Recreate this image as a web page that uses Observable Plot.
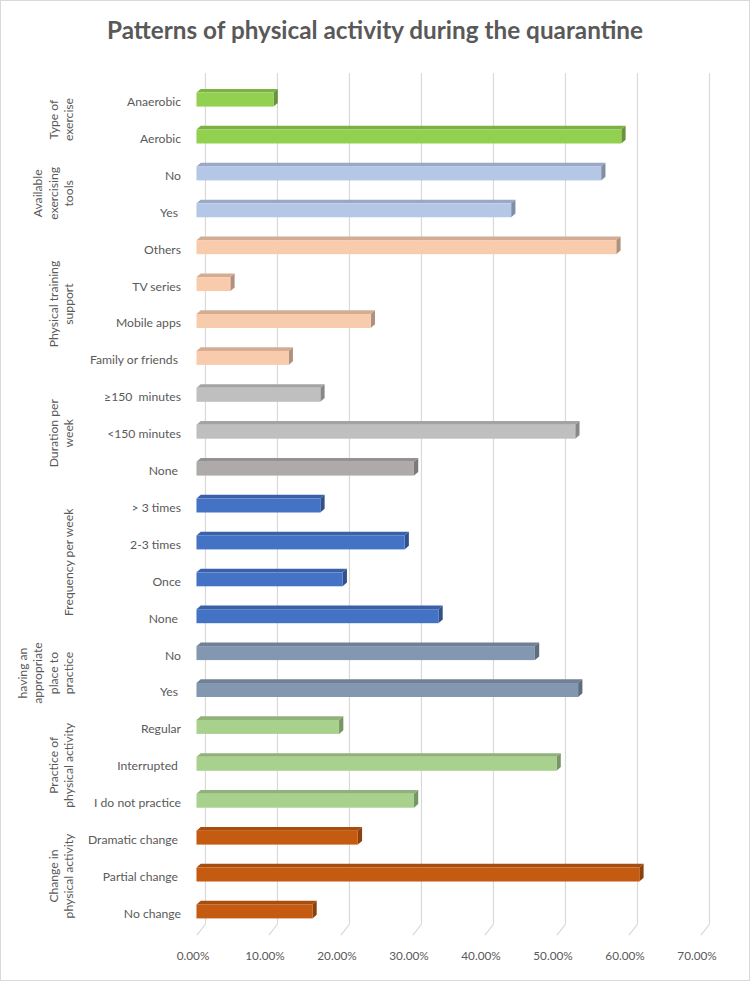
<!DOCTYPE html>
<html><head><meta charset="utf-8">
<script src="https://cdn.jsdelivr.net/npm/d3@7"></script>
<script src="https://cdn.jsdelivr.net/npm/@observablehq/plot@0.6"></script>
<style>
html,body{margin:0;padding:0;background:#fff;}
#chart{position:relative;width:750px;height:981px;box-sizing:border-box;border:1px solid #d9d9d9;background:#fff;font-family:Lato, sans-serif;overflow:hidden;}
#title{height:61px;line-height:58px;text-align:center;font-weight:bold;font-size:24.3px;color:#595959;}
svg{white-space:pre;display:block;}
</style></head><body>
<div id="chart"><div id="title">Patterns of physical activity during the quarantine</div></div>
<script>
// ---- data ----
const labels = [
  "Anaerobic", "Aerobic",
  "No", "Yes ",
  "Others", "TV series", "Mobile apps", "Family or friends ",
  "\u2265150  minutes", "<150 minutes", "None ",
  "> 3 times", "2-3 times", "Once", "None ",
  "No", "Yes ",
  "Regular", "Interrupted ", "I do not practice",
  "Dramatic change ", "Partial change ", "No change"
];
const values = [
  10.7, 59.0,
  56.2, 43.7,
  58.3, 4.7, 24.2, 12.8,
  17.2, 52.6, 30.2,
  17.2, 28.9, 20.3, 33.6,
  47.0, 53.0,
  19.8, 50.0, 30.2,
  22.4, 61.5, 16.1
];
const groupIndex = [0,0, 1,1, 2,2,2,2, 3,3,3, 4,4,4,4, 5,5, 6,6,6, 7,7,7];
const groupNames = [
  "Type of\nexercise",
  "Available\nexercising\ntools",
  "Physical training\nsupport",
  "Duration per\nweek",
  "Frequency per week",
  "having an\nappropriate\nplace to\npractice",
  "Practice of\nphysical activity",
  "Change in\nphysical activity"
];
const xTicks = [0, 10, 20, 30, 40, 50, 60, 70];

// ---- styles ----
const groupColors = ["#92d050", "#b4c7e7", "#f8cbad", "#bfbfbf", "#4472c4", "#8497b0", "#a9d18e", "#c55a11"];
const specialColors = {10: "#aeaaaa"}; // "None" in duration is a darker grey
const W = 750, H = 918;
const marginTop = 19.2, marginLeft = 196;
const rowStep = 37, pxPerUnit = 7.22;
const marginBottom = H - marginTop - rowStep * labels.length;
const marginRight = W - marginLeft - pxPerUnit * 70;
const faceHalf = 7 / rowStep;
const depthX = 4.3 / pxPerUnit, depthY = 3.7 / rowStep;
const gridDx = 8.5;
const yFromPx = p => (p - marginTop) / rowStep - 0.5;
const floorFront = yFromPx(875), floorBack = yFromPx(864);

const rows = labels.map((label, i) => {
  const front = specialColors[i] || groupColors[groupIndex[i]];
  return {
    i, label, value: values[i], g: groupIndex[i], front,
    top: d3.color(front).darker(0.45).formatHex(),
    side: d3.color(front).darker(0.95).formatHex()
  };
});
const topPts = rows.flatMap(r => [
  {i: r.i, y: r.i - faceHalf, x1: 0, x2: r.value, fill: r.top},
  {i: r.i, y: r.i - faceHalf - depthY, x1: depthX, x2: r.value + depthX, fill: r.top}
]);
const sidePts = rows.flatMap(r => [
  {i: r.i, x: r.value, y1: r.i - faceHalf, y2: r.i + faceHalf, fill: r.side},
  {i: r.i, x: r.value + depthX, y1: r.i - faceHalf - depthY, y2: r.i + faceHalf - depthY, fill: r.side}
]);
const groups = groupNames.map((name, g) => {
  const idx = rows.filter(r => r.g === g).map(r => r.i);
  return {name, center: (d3.min(idx) + d3.max(idx)) / 2};
});

const chart = Plot.plot({
  width: W, height: H,
  marginTop, marginBottom, marginLeft, marginRight,
  style: {fontFamily: "Lato, sans-serif", color: "#595959", background: "#fff"},
  x: {domain: [0, 70]},
  y: {domain: [-0.5, labels.length - 0.5], reverse: true},
  color: {type: "identity"},
  marks: [
    Plot.ruleX(xTicks, {x: d => d, dx: gridDx, insetTop: -8.2, insetBottom: 6.2, stroke: "#d9d9d9", strokeWidth: 1.2}),
    Plot.link(xTicks, {x1: d => d, x2: d => d + gridDx / pxPerUnit, y1: floorFront, y2: floorBack, stroke: "#d9d9d9", strokeWidth: 1.2}),
    Plot.areaX(topPts, {y: "y", x1: "x1", x2: "x2", z: "i", fill: "fill", curve: "linear"}),
    Plot.areaY(sidePts, {x: "x", y1: "y1", y2: "y2", z: "i", fill: "fill", curve: "linear"}),
    Plot.rect(rows, {x1: 0, x2: "value", y1: r => r.i - faceHalf, y2: r => r.i + faceHalf, fill: "front"}),
    Plot.axisY(d3.range(labels.length), {tickFormat: i => labels[i], tickSize: 0, tickPadding: 16, fontSize: 12.2, dy: 2, label: null}),
    Plot.axisX(xTicks, {tickFormat: d => d.toFixed(2) + "%", tickSize: 0, tickPadding: 21, fontSize: 11.8, dx: -4, label: null}),
    Plot.text(groups, {frameAnchor: "left", y: "center", text: "name", rotate: -90, dx: -124, dy: 1, lineAnchor: "bottom", textAnchor: "middle", lineHeight: 1.27, fontSize: 12.2, fill: "#595959"})
  ]
});
document.getElementById("chart").appendChild(chart);
</script>
</body></html>
